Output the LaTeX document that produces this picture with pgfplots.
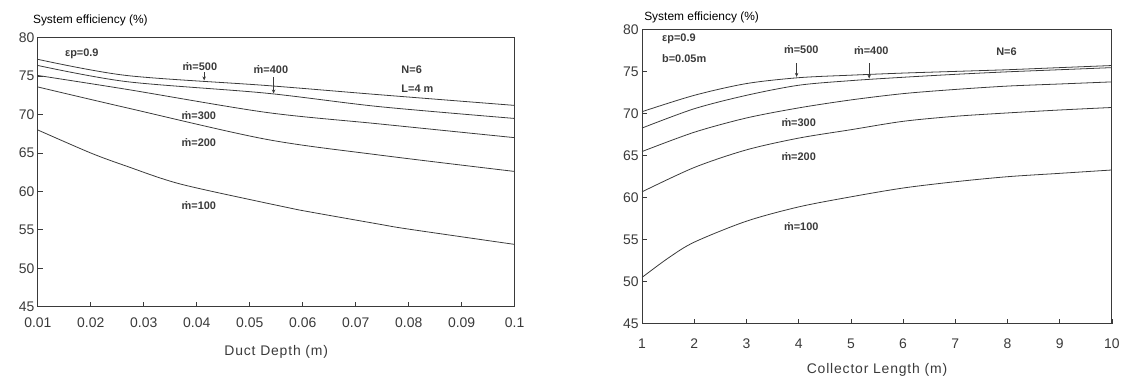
\documentclass[border=0pt]{standalone}
\usepackage{fontspec}
\setmainfont{Liberation Sans}
\usepackage{pgfplots}
\pgfplotsset{compat=1.18}
\usetikzlibrary{arrows.meta}
\definecolor{ink}{HTML}{3A3A3A}
\tikzset{
 lab/.style={font=\bfseries\fontsize{11}{11}\selectfont, text=ink, inner sep=0pt},
 arr/.style={ink, line width=0.9pt, -{Stealth[length=4pt,width=3.5pt]}},
}
\begin{document}
\begin{tikzpicture}
\path (0pt,0pt) rectangle (1123pt,383pt);
\pgfplotsset{
 every axis/.append style={scale only axis, clip=false,
   axis line style={ink, line width=1pt},
   tick style={ink, line width=0.8pt}, tick align=inside, major tick length=5pt,
   xtick pos=bottom, ytick pos=left,
   ticklabel style={font=\fontsize{14}{14}\selectfont, text=ink},
   /pgf/number format/assume math mode=true,
   ymin=45, ymax=80, ytick={45,50,55,60,65,70,75,80},
   scaled x ticks=false},
 curve/.style={ink, line width=0.8pt, smooth, mark=none},
}
% ---------------- left chart ----------------
\begin{axis}[at={(38pt,75pt)}, anchor=south west, width=479pt, height=270pt,
  xmin=0.01, xmax=0.1,
  xtick={0.01,0.02,0.03,0.04,0.05,0.06,0.07,0.08,0.09,0.1},
  xticklabels={0.01,0.02,0.03,0.04,0.05,0.06,0.07,0.08,0.09,0.1},
  xticklabel style={yshift=-8pt},
  xlabel={Duct Depth (m)},
  xlabel style={at={(axis description cs:0.5,0)}, anchor=center, yshift=-45pt,
    font=\fontsize{14}{14}\selectfont\addfontfeature{LetterSpace=6}, text=ink}]
\addplot[curve] coordinates {(0.01,77.2) (0.0267,75.1) (0.053,73.8) (0.0743,72.6) (0.1,71.2)};
\addplot[curve] coordinates {(0.01,76.4) (0.0267,74.3) (0.053,72.8) (0.0743,71.05) (0.1,69.5)};
\addplot[curve] coordinates {(0.01,75.1) (0.0267,73.3) (0.053,70.3) (0.0743,68.8) (0.1,67.0)};
\addplot[curve] coordinates {(0.01,73.6) (0.0267,70.9) (0.053,66.8) (0.0743,64.75) (0.1,62.6)};
\addplot[curve] coordinates {(0.01,68.0) (0.02,65.0) (0.0267,63.3) (0.0367,61.0) (0.053,58.5) (0.0592,57.6) (0.0743,55.75) (0.0799,55.1) (0.1,53.1)};
\node[lab] at (axis cs:0.0183,77.9) {εp=0.9};
\node[lab] at (axis cs:0.0406,76.3) {\.{m}=500};
\node[lab] at (axis cs:0.054,75.9) {\.{m}=400};
\node[lab, anchor=west] at (axis cs:0.0786,75.8) {N=6};
\node[lab, anchor=west] at (axis cs:0.0786,73.4) {L=4 m};
\node[lab] at (axis cs:0.0404,69.9) {\.{m}=300};
\node[lab] at (axis cs:0.0404,66.3) {\.{m}=200};
\node[lab] at (axis cs:0.0404,58.1) {\.{m}=100};
\draw[arr] (axis cs:0.0414,75.5) -- (axis cs:0.0414,74.45);
\draw[arr] (axis cs:0.0545,74.9) -- (axis cs:0.0545,72.75);
\node[anchor=west, font=\fontsize{12}{12}\selectfont, text=black, inner sep=0pt]
  at ([xshift=-5pt,yshift=17pt]rel axis cs:0,1) {System efficiency (\%)};
\end{axis}
% ---------------- right chart ----------------
\begin{axis}[at={(645pt,58pt)}, anchor=south west, width=472pt, height=295pt,
  xmin=1, xmax=10, xtick={1,2,3,4,5,6,7,8,9,10},
  xticklabel style={yshift=-12pt},
  xlabel={Collector Length (m)},
  xlabel style={at={(axis description cs:0.5,0)}, anchor=center, yshift=-47pt,
    font=\fontsize{14}{14}\selectfont\addfontfeature{LetterSpace=6}, text=ink}]
\addplot[curve] coordinates {(1,70.25) (2,72.2) (3,73.6) (4,74.3) (5,74.6) (6,74.85) (7,75.05) (8,75.25) (9,75.5) (10,75.75)};
\addplot[curve] coordinates {(1,68.3) (2,70.6) (3,72.2) (4,73.4) (5,73.95) (6,74.35) (7,74.7) (8,75.0) (9,75.25) (10,75.5)};
\addplot[curve] coordinates {(1,65.5) (2,67.8) (3,69.5) (4,70.7) (5,71.65) (6,72.4) (7,72.9) (8,73.3) (9,73.55) (10,73.8)};
\addplot[curve] coordinates {(1,60.7) (2,63.6) (3,65.7) (4,67.1) (5,68.1) (6,69.1) (7,69.7) (8,70.1) (9,70.45) (10,70.75)};
\addplot[curve] coordinates {(1,50.5) (1.5,52.8) (2,54.7) (3,57.2) (4,58.9) (5,60.1) (6,61.15) (7,61.9) (8,62.5) (9,62.9) (10,63.3)};
\node[lab, anchor=west] at (axis cs:1.38,78.9) {εp=0.9};
\node[lab, anchor=west] at (axis cs:1.38,76.6) {b=0.05m};
\node[lab] at (axis cs:4.05,77.7) {\.{m}=500};
\node[lab] at (axis cs:5.39,77.5) {\.{m}=400};
\node[lab] at (axis cs:7.98,77.4) {N=6};
\node[lab] at (axis cs:4.0,69.0) {\.{m}=300};
\node[lab] at (axis cs:4.0,64.85) {\.{m}=200};
\node[lab] at (axis cs:4.05,56.5) {\.{m}=100};
\draw[arr] (axis cs:3.96,76.0) -- (axis cs:3.96,74.4);
\draw[arr] (axis cs:5.35,76.0) -- (axis cs:5.35,74.2);
\node[anchor=west, font=\fontsize{12}{12}\selectfont, text=black, inner sep=0pt]
  at ([xshift=2pt,yshift=13pt]rel axis cs:0,1) {System efficiency (\%)};
\end{axis}
\end{tikzpicture}
\end{document}
